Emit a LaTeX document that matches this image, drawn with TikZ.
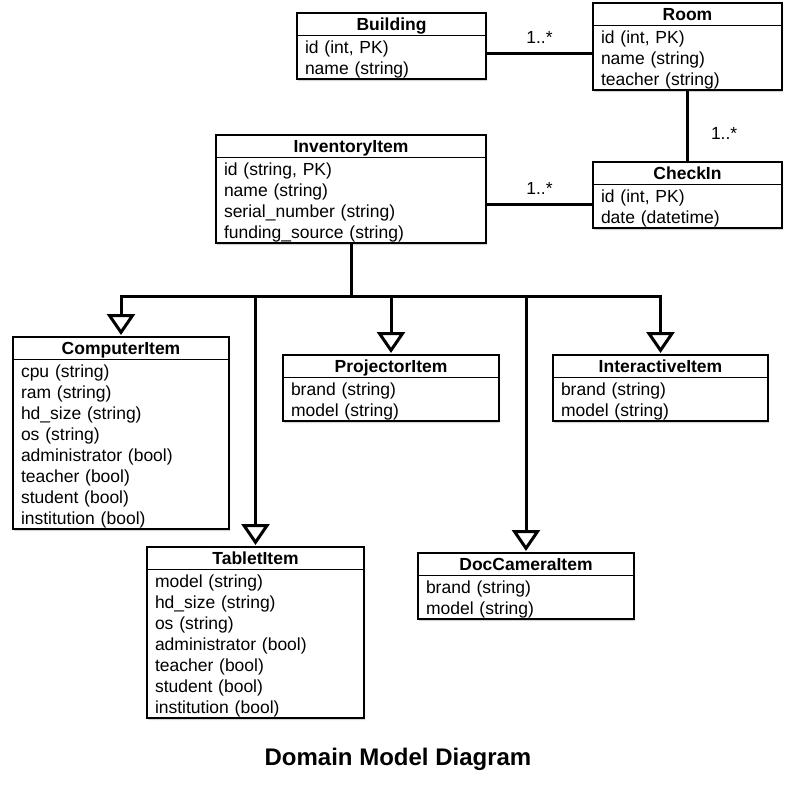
\documentclass[tikz,border=0pt]{standalone}
\usepackage{fontspec}
\setmainfont{Liberation Sans}
\usetikzlibrary{positioning,shapes.multipart,shadows,arrows.meta}
\newcommand{\rs}{\rule[-4pt]{0pt}{21pt}}
\newcommand{\umlhead}[1]{\makebox[\linewidth]{\rs\bfseries #1}}

\begin{document}
\begin{tikzpicture}[x=1pt,y=-1pt,
  cls/.style={rectangle split,rectangle split parts=2,draw,line width=1.6pt,fill=white,
    inner xsep=8pt,inner ysep=0pt,outer sep=0pt,anchor=north west,align=left,
    font=\fontsize{17.5}{21}\selectfont,
    drop shadow={shadow xshift=1.2pt,shadow yshift=-1.8pt,opacity=0.35}},
  assoc/.style={line width=3pt},
  gen/.style={line width=3pt,-{Triangle[open,length=21pt,width=28pt]},shorten >=2pt},
  mult/.style={inner sep=0pt,font=\fontsize{17.5}{21}\selectfont}]

\useasboundingbox (0,0) rectangle (796,787);

  \node[cls,text width=173pt] (Building) at (297,13) {\umlhead{Building}\nodepart{two}\rs id (int, PK)\\\rs name (string)};
  \node[cls,text width=173pt] (Room) at (593,3) {\umlhead{Room}\nodepart{two}\rs id (int, PK)\\\rs name (string)\\\rs teacher (string)};
  \node[cls,text width=173pt] (CheckIn) at (593,162) {\umlhead{CheckIn}\nodepart{two}\rs id (int, PK)\\\rs date (datetime)};
  \node[cls,text width=254pt] (Inventory) at (216,135) {\umlhead{InventoryItem}\nodepart{two}\rs id (string, PK)\\\rs name (string)\\\rs serial\_number (string)\\\rs funding\_source (string)};
  \node[cls,text width=200pt] (Computer) at (13,337) {\umlhead{ComputerItem}\nodepart{two}\rs cpu (string)\\\rs ram (string)\\\rs hd\_size (string)\\\rs os (string)\\\rs administrator (bool)\\\rs teacher (bool)\\\rs student (bool)\\\rs institution (bool)};
  \node[cls,text width=200pt] (Projector) at (283,355) {\umlhead{ProjectorItem}\nodepart{two}\rs brand (string)\\\rs model (string)};
  \node[cls,text width=199pt] (Interactive) at (553,355) {\umlhead{InteractiveItem}\nodepart{two}\rs brand (string)\\\rs model (string)};
  \node[cls,text width=201pt] (Tablet) at (147,547) {\umlhead{TabletItem}\nodepart{two}\rs model (string)\\\rs hd\_size (string)\\\rs os (string)\\\rs administrator (bool)\\\rs teacher (bool)\\\rs student (bool)\\\rs institution (bool)};
  \node[cls,text width=200pt] (DocCam) at (418,553) {\umlhead{DocCameraItem}\nodepart{two}\rs brand (string)\\\rs model (string)};
  \node[font=\fontsize{24}{29}\selectfont\bfseries,anchor=base] (title) at (398,765) {Domain Model Diagram};

  % associations
  \draw[assoc] ([yshift=-7.5pt]Building.east) -- ([yshift=-7.5pt]Building.east -| Room.west) node[mult,midway,above=9pt] {1..*};
  \draw[assoc] (Room.south) -- (CheckIn.north) node[mult,pos=0.6,right=22pt] {1..*};
  \draw[assoc] ([yshift=-9.5pt]CheckIn.west) -- ([yshift=-9.5pt]CheckIn.west -| Inventory.east) node[mult,midway,above=9pt] {1..*};

  % generalisation
  \coordinate (bus) at (Inventory.south |- 0,296);
  \draw[assoc] (Inventory.south) -- (bus);
  \draw[gen] (bus) -| (Computer.north);
  \draw[gen] (bus) -| (Tablet.north);
  \draw[gen] (bus) -| (Projector.north);
  \draw[gen] (bus) -| (DocCam.north);
  \draw[gen] (bus) -| (Interactive.north);
\end{tikzpicture}
\end{document}
